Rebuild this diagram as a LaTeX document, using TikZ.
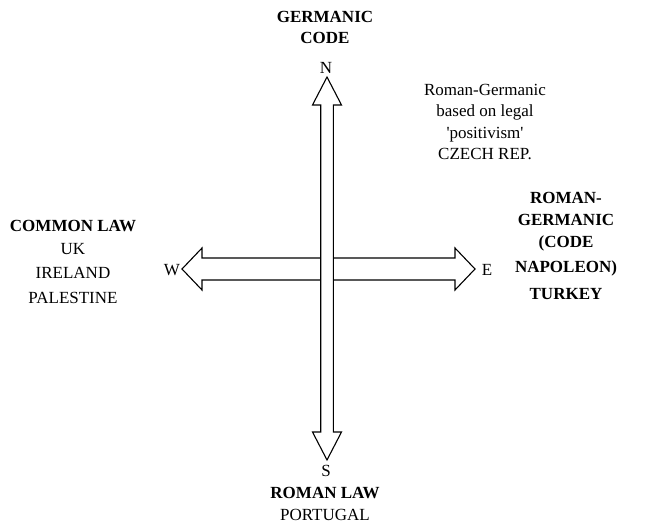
\documentclass[tikz,border=0pt]{standalone}
\usepackage{fontspec}
\setmainfont{Liberation Serif}
\begin{document}
\begin{tikzpicture}[x=1pt,y=-1pt,
  txt/.style={anchor=base,inner sep=0pt,font=\fontsize{17}{20}\selectfont},
  hd/.style={txt,font=\fontsize{17}{20}\selectfont\bfseries},
  blockarrow/.style={draw=black,fill=white,line width=1.1pt,line join=miter}]
\useasboundingbox (0,0) rectangle (646,530);

% east-west double arrow
\draw[blockarrow] (182,269) -- (202,248) -- (202,258) -- (455,258) -- (455,248)
  -- (475,269) -- (455,290) -- (455,280) -- (202,280) -- (202,290) -- cycle;
% north-south double arrow, drawn on top
\draw[blockarrow] (327,77) -- (341.5,105) -- (333.3,105) -- (333.3,432) -- (341.5,432)
  -- (327,460) -- (312.5,432) -- (320.7,432) -- (320.7,105) -- (312.5,105) -- cycle;

% compass letters
\node[txt] (n) at (326,73) {N};
\node[txt] (s) at (326,476) {S};
\node[txt] (w) at (172,275) {W};
\node[txt] (e) at (487,275) {E};

% north
\node[hd] (g1) at (325,22) {GERMANIC};
\node[hd] (g2) at (325,43) {CODE};

% north-east note
\node[txt] (r1) at (485,95) {Roman-Germanic};
\node[txt] (r2) at (485,116.5) {based on legal};
\node[txt] (r3) at (485,138) {\textquotesingle positivism\textquotesingle};
\node[txt] (r4) at (485,159.5) {CZECH REP.};

% west
\node[hd]  (c1) at (73,231) {COMMON LAW};
\node[txt] (c2) at (73,254.5) {UK};
\node[txt] (c3) at (73,278.5) {IRELAND};
\node[txt] (c4) at (73,303) {PALESTINE};

% east
\node[hd] (e1) at (566,203) {ROMAN-};
\node[hd] (e2) at (566,225) {GERMANIC};
\node[hd] (e3) at (566,247) {(CODE};
\node[hd] (e4) at (566,272) {NAPOLEON)};
\node[hd] (e5) at (566,299) {TURKEY};

% south
\node[hd]  (s1) at (325,498) {ROMAN LAW};
\node[txt] (s2) at (325,520) {PORTUGAL};
\end{tikzpicture}
\end{document}
